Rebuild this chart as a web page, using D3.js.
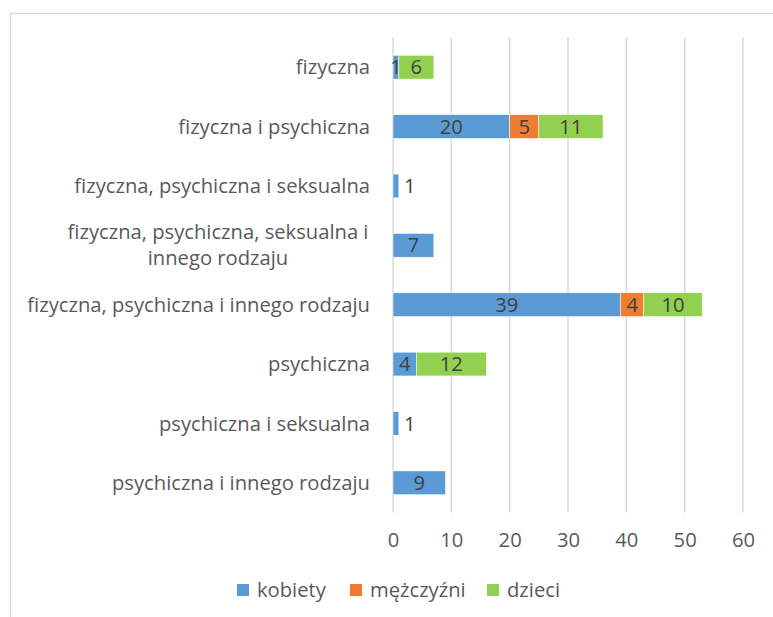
<!DOCTYPE html>
<html>
<head>
<meta charset="utf-8">
<script src="https://cdn.jsdelivr.net/npm/d3@7"></script>
<style>
  body { margin: 0; background: #fff; }
  text { font-family: "Open Sans", sans-serif; }
</style>
</head>
<body>
<svg width="773" height="617"></svg>
<script>
// categories, top to bottom
const categories = [
  "fizyczna",
  "fizyczna i psychiczna",
  "fizyczna, psychiczna i seksualna",
  "fizyczna, psychiczna, seksualna i|innego rodzaju",
  "fizyczna, psychiczna i innego rodzaju",
  "psychiczna",
  "psychiczna i seksualna",
  "psychiczna i innego rodzaju"
];
const seriesNames = ["kobiety", "mężczyźni", "dzieci"];
const kobiety   = [1, 20, 1, 7, 39, 4, 1, 9];
const mezczyzni = [0, 5, 0, 0, 4, 0, 0, 0];
const dzieci    = [6, 11, 0, 0, 10, 12, 0, 0];
const xTicks = [0, 10, 20, 30, 40, 50, 60];
const colors = ["#5B9BD5", "#ED7D31", "#92D050"];

const svg = d3.select("svg");

// pick a font size so the longest label spans like in the original
const probe = svg.append("text").style("font-size", "100px").text("fizyczna, psychiczna i innego rodzaju");
const fs = 343 / probe.node().getComputedTextLength() * 100;
probe.remove();
const fsize = fs.toFixed(2) + "px";

// chart border
svg.append("rect")
  .attr("x", 10.5).attr("y", 13.5)
  .attr("width", 800).attr("height", 700)
  .attr("fill", "none").attr("stroke", "#d9d9d9").attr("stroke-width", 1.5);

const x = d3.scaleLinear().domain([0, 60]).range([393, 743]);
const y = d3.scaleBand().domain(categories).range([37.5, 512.5]).paddingInner(0.6).paddingOuter(0.3);

// gridlines
svg.append("g").selectAll("line")
  .data(xTicks).join("line")
  .attr("x1", d => x(d)).attr("x2", d => x(d))
  .attr("y1", 37.5).attr("y2", 512.5)
  .attr("stroke", "#d9d9d9").attr("stroke-width", 1.5);

// x axis labels
const xAxis = svg.append("g")
  .attr("transform", "translate(0,512.5)")
  .call(d3.axisBottom(x).tickValues(xTicks).tickSize(0).tickPadding(20));
xAxis.select(".domain").remove();
xAxis.selectAll("text")
  .attr("fill", "#595959").style("font-size", fsize).style("font-family", "'Open Sans', sans-serif");

// stacked data
const rows = categories.map((c, i) => ({ cat: c, kobiety: kobiety[i], "mężczyźni": mezczyzni[i], dzieci: dzieci[i] }));
const stack = d3.stack().keys(seriesNames)(rows);

const layers = svg.append("g").selectAll("g")
  .data(stack).join("g")
  .attr("fill", (d, i) => colors[i]);

layers.selectAll("rect")
  .data(d => d.filter(s => s[1] - s[0] > 0))
  .join("rect")
  .attr("x", d => x(d[0]))
  .attr("y", d => y(d.data.cat))
  .attr("width", d => x(d[1]) - x(d[0]))
  .attr("height", y.bandwidth())
  .attr("stroke", "#fff").attr("stroke-width", 0.5);

// data labels
layers.selectAll("text")
  .data(d => d.filter(s => s[1] - s[0] > 0).map(s => ({ s, key: d.key })))
  .join("text")
  .attr("x", d => {
    const total = d.s.data.kobiety + d.s.data["mężczyźni"] + d.s.data.dzieci;
    if (total === 1) return x(d.s[1]) + 11;
    return (x(d.s[0]) + x(d.s[1])) / 2;
  })
  .attr("y", d => y(d.s.data.cat) + y.bandwidth() / 2)
  .attr("dy", "0.35em")
  .attr("text-anchor", "middle")
  .attr("fill", "#404040")
  .style("font-size", fsize)
  .text(d => d.s[1] - d.s[0]);

// category labels
const catG = svg.append("g");
categories.forEach(c => {
  const lines = c.split("|");
  const cy = y(c) + y.bandwidth() / 2;
  const t = catG.append("text")
    .attr("fill", "#595959")
    .style("font-size", fsize);
  if (lines.length === 1) {
    t.attr("x", 370).attr("y", cy).attr("dy", "0.35em").attr("text-anchor", "end").text(c);
  } else {
    t.attr("text-anchor", "middle");
    lines.forEach((l, j) => {
      t.append("tspan").attr("x", 218).attr("y", cy + (j - 0.5) * 26).attr("dy", "0.35em").text(l);
    });
  }
});

// legend
const legendX = [237, 350, 487];
const legend = svg.append("g").selectAll("g")
  .data(seriesNames).join("g")
  .attr("transform", (d, i) => `translate(${legendX[i]},590)`);
legend.append("rect")
  .attr("x", 0).attr("y", -6).attr("width", 12).attr("height", 12)
  .attr("fill", (d, i) => colors[i]);
legend.append("text")
  .attr("x", 20).attr("y", 0).attr("dy", "0.35em")
  .attr("fill", "#595959").style("font-size", fsize)
  .text(d => d);
</script>
</body>
</html>
